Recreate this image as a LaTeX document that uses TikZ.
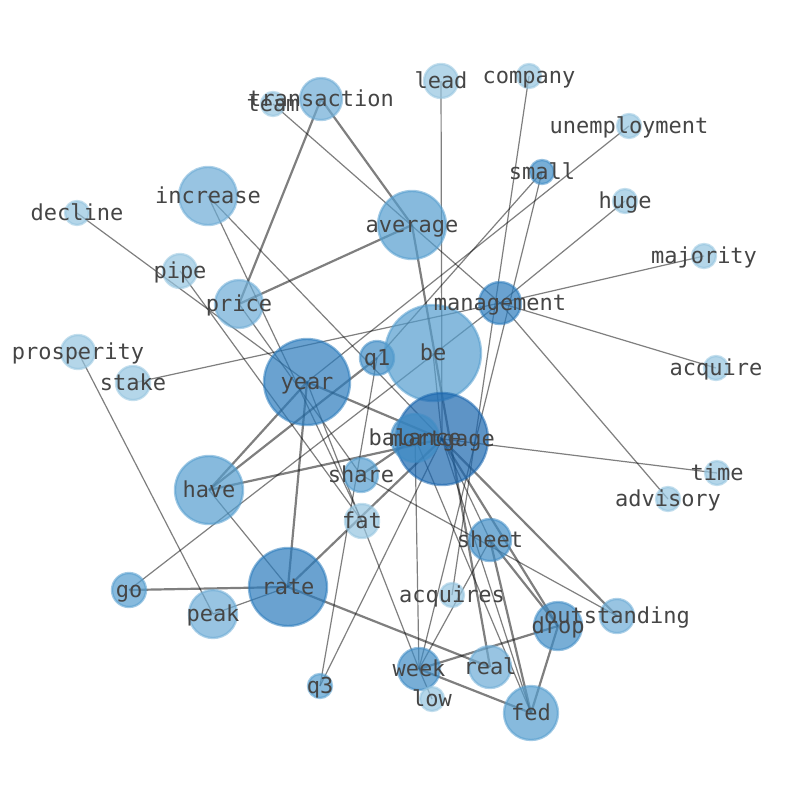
\documentclass[tikz,border=0pt]{standalone}
\usepackage{fontspec}
\newfontfamily\wordfont{DejaVu Sans Mono}
\pgfdeclarelayer{edges}
\pgfdeclarelayer{labels}
\pgfsetlayers{edges,main,labels}
\definecolor{blueA}{HTML}{94C4DF}
\definecolor{blueB}{HTML}{6CABD5}
\definecolor{blueC}{HTML}{549DCE}
\definecolor{blueD}{HTML}{3F8CC5}
\definecolor{blueE}{HTML}{2B7BBC}
\definecolor{blueF}{HTML}{1A66AE}
\begin{document}
\begin{tikzpicture}[x=1pt,y=-1pt,
    word/.style={circle,inner sep=0pt,outer sep=0pt,line width=2.4pt,
      fill opacity=0.7,draw opacity=0.55},
    wordtext/.style={font=\wordfont\fontsize{22}{26}\selectfont,text=black!73,
      inner sep=0pt,text height=0.74em,text depth=0.22em,yshift=-5pt},
    link/.style={line width=1.2pt,draw=black,draw opacity=0.5},
    heavy/.style={link,line width=2.2pt}]
  \useasboundingbox (0,0) rectangle (794,790);
  % words
  \foreach \n/\x/\y/\r/\c in {team/273/104/12/blueA, transaction/321/99/21/blueB,
      lead/441/81/17/blueA, company/529/76/12/blueA, unemployment/629/126/12/blueA,
      small/542/172/12/blueD, huge/625/201/12/blueA, decline/77/213/12/blueA,
      increase/208/196/29/blueB, average/412/225/34/blueC, pipe/180/271/17/blueA,
      price/239/304/24/blueB, majority/704/256/12/blueA, management/500/303/21/blueE,
      prosperity/78/352/17/blueA, q1/377/358/17/blueD, be/433/353/48/blueC,
      stake/133/383/17/blueA, year/307/382/43/blueE, acquire/716/368/12/blueA,
      mortgage/442/439/46/blueF, balance/415/438/24/blueD, share/361/475/17/blueC,
      time/717/473/12/blueA, advisory/668/499/12/blueA, have/209/490/34/blueC,
      fat/362/521/17/blueA, sheet/490/540/21/blueD, acquires/452/595/12/blueA,
      go/129/590/17/blueC, rate/288/587/39/blueE, peak/213/614/24/blueB,
      outstanding/617/616/17/blueB, drop/558/626/24/blueD, week/419/669/21/blueD,
      real/490/667/21/blueB, q3/320/686/12/blueC, low/432/699/12/blueA,
      fed/531/713/27/blueC}
    \node[word,draw=\c,fill=\c,minimum size=2pt*\r] (\n) at (\x,\y) {};
  % links
  \begin{pgfonlayer}{edges}
    \foreach \a/\b in {team/management, lead/mortgage, company/acquires,
        unemployment/year, small/q1, small/week, huge/management,
        majority/management, acquire/management, advisory/management,
        stake/management, decline/year, increase/fat, increase/mortgage,
        pipe/fat, price/share, year/week, q3/q1, q3/mortgage, balance/week,
        go/management, prosperity/peak, peak/rate, have/rate, mortgage/time,
        share/outstanding, sheet/week, low/week, mortgage/fed, balance/fed,
        mortgage/sheet, be/mortgage}
      \draw[link] (\a.center) -- (\b.center);
    \foreach \a/\b in {transaction/price, transaction/average, average/price,
        average/real, year/have, have/q1, year/rate, year/mortgage,
        rate/mortgage, have/mortgage, share/balance, mortgage/drop, sheet/drop,
        mortgage/outstanding, rate/real, go/rate, drop/week, week/fed,
        drop/fed, sheet/fed}
      \draw[heavy] (\a.center) -- (\b.center);
  \end{pgfonlayer}
  % labels
  \begin{pgfonlayer}{labels}
    \foreach \n in {team, transaction, lead, company, unemployment, small, huge,
        decline, increase, average, pipe, price, majority, management, prosperity,
        q1, be, stake, year, acquire, mortgage, balance, share, time, advisory,
        have, fat, sheet, acquires, go, rate, peak, outstanding, drop, week,
        real, q3, low, fed}
      \node[wordtext] (t-\n) at (\n) {\n};
  \end{pgfonlayer}
\end{tikzpicture}
\end{document}
